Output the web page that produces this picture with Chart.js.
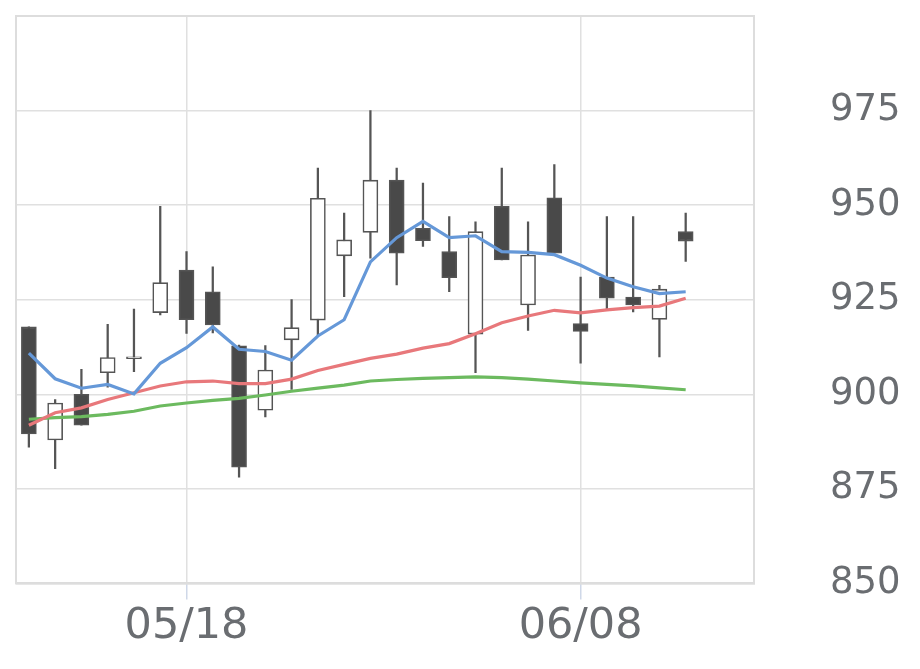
<!DOCTYPE html>
<html>
<head>
<meta charset="utf-8">
<script src="https://cdn.jsdelivr.net/npm/chart.js@4/dist/chart.umd.min.js"></script>
<style>
  html, body { margin: 0; padding: 0; background: #fff; }
  #wrap { width: 920px; height: 669px; }
</style>
</head>
<body>
<div id="wrap"><canvas id="c" width="920" height="669"></canvas></div>
<script>
const dates = ["05/08","05/11","05/12","05/13","05/14","05/15","05/18","05/19","05/20","05/21","05/22","05/25","05/26","05/27","05/28","05/29","06/01","06/02","06/03","06/04","06/05","06/08","06/09","06/10","06/11","06/12"];
const tickDates = ["05/18", "06/08"];
const openV  = [917.8, 887.9, 900.0, 905.7, 909.4, 921.6, 932.8, 927.1, 912.8, 895.8, 914.4, 919.6, 936.6, 942.8, 956.6, 943.9, 937.7, 915.9, 949.7, 923.6, 951.9, 918.7, 931.0, 925.7, 919.8, 943.0];
const highV  = [917.8, 898.6, 906.6, 918.5, 922.5, 949.7, 937.7, 933.7, 913.0, 912.9, 925.0, 959.8, 947.9, 975.0, 959.8, 955.8, 947.0, 945.6, 959.8, 945.6, 960.7, 931.0, 947.0, 947.0, 928.8, 947.9];
const lowV   = [886.0, 880.3, 891.8, 901.9, 906.0, 921.0, 916.1, 916.2, 878.1, 894.0, 901.3, 915.6, 925.8, 936.0, 928.9, 939.1, 927.1, 905.7, 935.5, 916.9, 937.3, 908.2, 922.5, 921.8, 909.9, 935.1];
const closeV = [889.5, 897.7, 891.8, 909.7, 909.9, 929.5, 919.7, 918.3, 880.7, 906.4, 917.6, 951.8, 940.8, 956.6, 937.3, 940.6, 930.8, 943.0, 935.5, 936.8, 937.3, 916.6, 925.4, 923.6, 927.8, 940.5];
const maShort = [910.9, 904.1, 901.6, 902.6, 900.1, 908.2, 912.3, 917.8, 911.9, 911.3, 909.0, 915.4, 919.7, 935.0, 941.4, 945.7, 941.4, 941.9, 937.7, 937.5, 936.9, 934.1, 930.7, 928.4, 926.6, 927.1];
const maMid   = [891.8, 895.1, 896.4, 898.6, 900.4, 902.2, 903.3, 903.5, 902.8, 902.8, 904.0, 906.3, 907.9, 909.5, 910.6, 912.2, 913.4, 916.0, 918.9, 920.7, 922.2, 921.5, 922.3, 922.9, 923.3, 925.4];
const maLong  = [893.4, 893.8, 894.1, 894.7, 895.5, 896.9, 897.7, 898.4, 898.9, 899.8, 900.8, 901.6, 902.4, 903.5, 903.9, 904.2, 904.4, 904.6, 904.4, 904.0, 903.5, 903.0, 902.6, 902.2, 901.7, 901.2];
const yTicks = [850, 875, 900, 925, 950, 975];

const idx = dates.map((d, i) => i);
const bodyData = idx.map(i => ({ x: i, y: [Math.min(openV[i], closeV[i]), Math.max(openV[i], closeV[i])] }));
const wickData = idx.map(i => ({ x: i, y: [lowV[i], highV[i]] }));
const bodyColors = idx.map(i => closeV[i] < openV[i] ? '#494949' : '#ffffff');
const lineData = arr => arr.map((v, i) => ({ x: i, y: v }));
const tickIdx = tickDates.map(d => dates.indexOf(d));

const frame = {
  id: 'frame',
  afterDraw(chart) {
    const a = chart.chartArea, ctx = chart.ctx;
    ctx.save();
    ctx.strokeStyle = '#dddddd';
    ctx.lineWidth = 2;
    ctx.strokeRect(a.left, a.top, a.right - a.left, a.bottom - a.top);
    ctx.restore();
  }
};

new Chart(document.getElementById('c'), {
  type: 'bar',
  data: {
    datasets: [
      { type: 'line', data: lineData(maShort), borderColor: '#6598d8', borderWidth: 3.2, pointRadius: 0, tension: 0, fill: false },
      { type: 'line', data: lineData(maMid), borderColor: '#e8787b', borderWidth: 3.2, pointRadius: 0, tension: 0, fill: false },
      { type: 'line', data: lineData(maLong), borderColor: '#6cba5f', borderWidth: 3.2, pointRadius: 0, tension: 0, fill: false },
      { type: 'bar', data: bodyData, backgroundColor: bodyColors, borderColor: '#555555', borderWidth: 1.6, borderSkipped: false, barThickness: 15, grouped: false },
      { type: 'bar', data: wickData, backgroundColor: '#555555', borderWidth: 0, barThickness: 1.6, grouped: false }
    ]
  },
  options: {
    responsive: false,
    animation: false,
    events: [],
    layout: { padding: { left: 16, top: 16, right: 19, bottom: 14 } },
    plugins: { legend: { display: false }, tooltip: { enabled: false } },
    scales: {
      x: {
        type: 'linear',
        min: -0.49,
        max: 27.6,
        offset: false,
        afterBuildTicks: s => { s.ticks = tickIdx.map(v => ({ value: v })); },
        afterFit: s => { s.paddingLeft = 0; s.paddingRight = 0; },
        ticks: {
          autoSkip: false,
          maxRotation: 0,
          padding: 2,
          color: '#6a6d71',
          font: { family: 'DejaVu Sans', size: 43 },
          callback: v => dates[v] || ''
        },
        grid: { offset: false, color: '#e0e0e0', lineWidth: 1.5, tickLength: 16, tickColor: '#cfd8e8', tickWidth: 1.5 },
        border: { display: true, color: '#dddddd', width: 2 }
      },
      y: {
        type: 'linear',
        position: 'right',
        min: 850,
        max: 1000,
        afterBuildTicks: s => { s.ticks = yTicks.concat([1000]).map(v => ({ value: v })); },
        afterFit: s => { s.width = 147; s.paddingTop = 0; s.paddingBottom = 0; },
        ticks: {
          padding: 76,
          color: '#6a6d71',
          font: { family: 'DejaVu Sans', size: 37 },
          callback: v => yTicks.includes(v) ? String(v) : ''
        },
        grid: { color: '#e0e0e0', lineWidth: 1.5, drawTicks: false },
        border: { display: true, color: '#dddddd', width: 2 }
      }
    }
  },
  plugins: [frame]
});
</script>
</body>
</html>
